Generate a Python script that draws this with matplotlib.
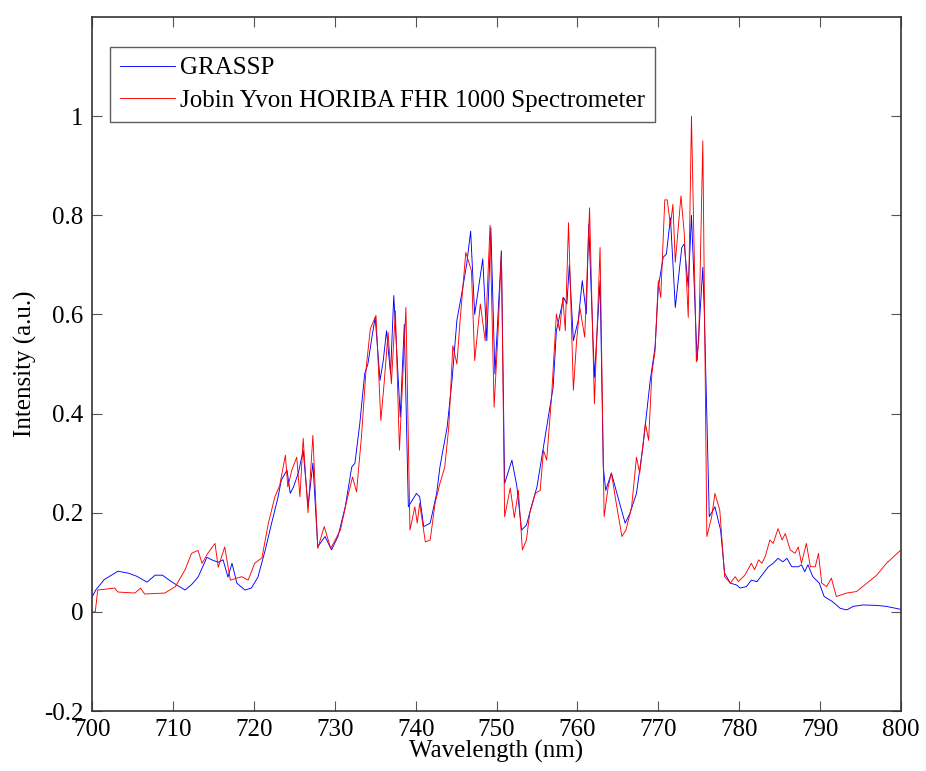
import matplotlib.pyplot as plt

# GRASSP spectrum
grassp_wl = [700.0, 700.5, 701.5, 703.2, 704.5, 705.5, 706.8, 707.8, 708.7, 709.8,
             711.5, 712.3, 713.1, 714.2, 714.8, 715.6, 716.2, 716.8, 717.3, 717.9,
             718.9, 719.7, 720.5, 721.4, 722.2, 723.0, 723.4, 724.1, 724.5, 724.9,
             725.5, 726.1, 726.7, 727.3, 727.9, 728.8, 729.6, 730.4, 731.3, 732.1,
             732.5, 733.1, 733.7, 734.1, 734.6, 735.0, 735.6, 736.0, 736.4, 736.9,
             737.3, 738.1, 738.6, 739.1, 740.1, 740.5, 741.0, 741.8, 742.6, 743.0,
             743.9, 744.5, 745.1, 745.7, 746.3, 746.8, 747.3, 748.3, 748.8, 749.3,
             749.8, 750.6, 751.0, 751.9, 752.5, 753.1, 753.7, 754.3, 755.0, 755.8,
             756.6, 757.0, 757.4, 758.3, 758.7, 759.0, 759.5, 760.1, 760.6, 761.1,
             761.4, 762.1, 762.8, 763.2, 763.5, 764.2, 765.0, 765.9, 766.5, 767.3,
             768.1, 769.0, 769.6, 770.0, 770.6, 771.0, 771.5, 772.1, 772.9, 773.2,
             773.7, 774.1, 774.8, 775.5, 775.7, 776.3, 777.0, 777.7, 778.2, 778.9,
             779.7, 780.1, 780.9, 781.5, 782.2, 782.8, 783.6, 784.2, 784.8, 785.4,
             785.9, 786.5, 787.3, 787.7, 788.1, 788.5, 789.1, 789.9, 790.5, 791.5,
             792.5, 793.3, 794.1, 795.3, 797.0, 798.2, 800.0]
grassp_int = [0.030, 0.045, 0.065, 0.082, 0.078, 0.072, 0.060, 0.074, 0.074, 0.061,
              0.044, 0.055, 0.070, 0.110, 0.105, 0.100, 0.105, 0.070, 0.098, 0.058,
              0.044, 0.048, 0.070, 0.124, 0.179, 0.232, 0.266, 0.286, 0.239, 0.252,
              0.280, 0.326, 0.212, 0.300, 0.131, 0.152, 0.125, 0.152, 0.212, 0.292,
              0.300, 0.380, 0.480, 0.500, 0.554, 0.594, 0.467, 0.507, 0.567, 0.480,
              0.638, 0.393, 0.580, 0.212, 0.239, 0.232, 0.172, 0.179, 0.239, 0.292,
              0.373, 0.467, 0.588, 0.642, 0.700, 0.768, 0.600, 0.712, 0.547, 0.775,
              0.480, 0.728, 0.259, 0.306, 0.255, 0.165, 0.175, 0.212, 0.252, 0.333,
              0.413, 0.453, 0.567, 0.634, 0.621, 0.700, 0.547, 0.588, 0.668, 0.601,
              0.782, 0.473, 0.668, 0.292, 0.245, 0.280, 0.232, 0.179, 0.199, 0.239,
              0.333, 0.467, 0.534, 0.655, 0.715, 0.722, 0.795, 0.614, 0.735, 0.742,
              0.655, 0.800, 0.507, 0.695, 0.594, 0.192, 0.212, 0.165, 0.078, 0.058,
              0.054, 0.048, 0.051, 0.064, 0.061, 0.074, 0.091, 0.098, 0.108, 0.101,
              0.108, 0.091, 0.091, 0.095, 0.081, 0.095, 0.071, 0.058, 0.031, 0.021,
              0.007, 0.004, 0.011, 0.014, 0.013, 0.011, 0.005]

# Jobin Yvon HORIBA FHR 1000 spectrum
fhr_wl = [700.0, 700.4, 700.7, 702.8, 703.2, 705.3, 706.0, 706.5, 709.0, 710.3,
          711.5, 712.3, 713.1, 713.6, 714.3, 715.2, 715.6, 716.4, 717.1, 718.5,
          719.3, 720.1, 721.0, 721.8, 722.6, 723.2, 723.9, 724.2, 724.7, 725.3,
          725.7, 726.1, 726.7, 727.3, 727.9, 728.7, 729.5, 730.7, 731.5, 732.2,
          732.7, 733.3, 733.9, 734.4, 735.1, 735.7, 736.1, 736.6, 737.0, 737.5,
          738.0, 738.8, 739.3, 739.9, 740.2, 740.5, 741.2, 741.8, 742.4, 743.0,
          743.6, 744.1, 744.6, 745.1, 745.5, 746.2, 746.9, 747.3, 748.0, 748.6,
          749.2, 749.7, 750.2, 750.6, 751.0, 751.7, 752.2, 752.7, 753.2, 753.7,
          754.1, 754.8, 755.4, 755.8, 756.2, 756.8, 757.4, 757.8, 758.2, 758.5,
          758.9, 759.5, 759.9, 760.3, 760.9, 761.5, 762.1, 762.8, 763.3, 763.8,
          764.2, 764.8, 765.5, 766.0, 766.7, 767.3, 767.7, 768.4, 768.8, 769.2,
          769.6, 770.0, 770.3, 770.8, 771.1, 771.5, 771.8, 772.1, 772.8, 773.2,
          773.7, 774.1, 774.7, 775.0, 775.5, 775.7, 776.0, 776.6, 777.0, 777.6,
          778.2, 778.9, 779.5, 779.9, 780.7, 781.5, 781.9, 782.4, 782.8, 783.2,
          783.8, 784.2, 784.8, 785.3, 785.7, 786.3, 786.9, 787.3, 787.7, 788.3,
          788.8, 789.4, 789.8, 790.2, 790.8, 791.4, 792.0, 793.3, 794.5, 795.8,
          797.0, 798.2, 800.0]
fhr_int = [0.000, 0.000, 0.044, 0.048, 0.040, 0.038, 0.048, 0.036, 0.038, 0.051,
           0.085, 0.118, 0.124, 0.098, 0.118, 0.138, 0.090, 0.131, 0.064, 0.071,
           0.064, 0.098, 0.109, 0.179, 0.232, 0.255, 0.316, 0.252, 0.286, 0.312,
           0.232, 0.350, 0.200, 0.356, 0.128, 0.172, 0.128, 0.165, 0.225, 0.272,
           0.242, 0.353, 0.494, 0.571, 0.598, 0.386, 0.460, 0.564, 0.460, 0.607,
           0.326, 0.614, 0.165, 0.212, 0.179, 0.219, 0.141, 0.145, 0.219, 0.259,
           0.292, 0.373, 0.537, 0.500, 0.588, 0.725, 0.688, 0.507, 0.621, 0.547,
           0.780, 0.413, 0.567, 0.728, 0.192, 0.250, 0.190, 0.245, 0.125, 0.145,
           0.199, 0.239, 0.245, 0.326, 0.306, 0.433, 0.601, 0.567, 0.634, 0.567,
           0.785, 0.447, 0.547, 0.614, 0.554, 0.815, 0.420, 0.735, 0.192, 0.252,
           0.280, 0.219, 0.152, 0.165, 0.212, 0.312, 0.280, 0.380, 0.346, 0.480,
           0.527, 0.668, 0.634, 0.831, 0.831, 0.780, 0.822, 0.705, 0.839, 0.765,
           0.594, 1.000, 0.504, 0.547, 0.950, 0.628, 0.152, 0.192, 0.239, 0.205,
           0.071, 0.058, 0.071, 0.061, 0.074, 0.098, 0.085, 0.105, 0.098, 0.111,
           0.145, 0.138, 0.168, 0.145, 0.158, 0.125, 0.118, 0.131, 0.098, 0.138,
           0.091, 0.091, 0.118, 0.058, 0.051, 0.068, 0.031, 0.038, 0.041, 0.058,
           0.074, 0.098, 0.125]

plt.rcParams['font.family'] = ['Liberation Serif', 'DejaVu Serif']

fig = plt.figure(figsize=(9.26, 7.71), dpi=100)
ax = fig.add_axes([0.0994, 0.0778, 0.8736, 0.9002])

ax.plot(grassp_wl, grassp_int, color='blue', lw=0.65, label='GRASSP')
ax.plot(fhr_wl, fhr_int, color='red', lw=0.65,
        label='Jobin Yvon HORIBA FHR 1000 Spectrometer')

ax.set_xlim(700, 800)
ax.set_ylim(-0.2, 1.2)
ax.set_xticks(range(700, 801, 10))
ax.set_yticks([-0.2, 0, 0.2, 0.4, 0.6, 0.8, 1])
ax.set_yticklabels(['-0.2', '0', '0.2', '0.4', '0.6', '0.8', '1'])
ax.tick_params(direction='in', top=True, right=True, length=7, width=0.8,
               labelsize=18, color='#555555')
ax.tick_params(axis='x', pad=6)
ax.tick_params(axis='y', pad=6)
for s in ax.spines.values():
    s.set_linewidth(1.2)
    s.set_color('#333333')

ax.set_xlabel('Wavelength (nm)', fontsize=18, labelpad=-1)
ax.set_ylabel('Intensity (a.u.)', fontsize=18, labelpad=5)

leg = ax.legend(loc='upper left', bbox_to_anchor=(0.022, 0.957), fontsize=18,
                frameon=True, fancybox=False, edgecolor='#333333',
                handlelength=2.2, borderaxespad=0, labelspacing=0.4,
                borderpad=0.4, handletextpad=0.2)
leg.get_frame().set_linewidth(1.0)

fig.savefig('out.png', dpi=100)
